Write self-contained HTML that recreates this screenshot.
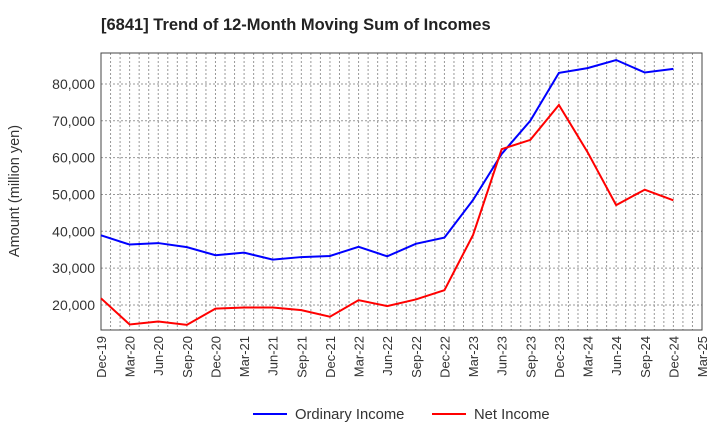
<!DOCTYPE html>
<html><head><meta charset="utf-8"><style>
body{margin:0;background:#fff;font-family:"Liberation Sans",sans-serif}
</style></head><body>
<svg id="c" width="720" height="440" xmlns="http://www.w3.org/2000/svg" font-family="Liberation Sans, sans-serif">
<text x="101" y="30" font-size="16.5" font-weight="bold" fill="#222">[6841]  Trend of 12-Month Moving Sum of Incomes</text>
<g id="grid"></g><g id="axes"></g><g id="series"></g>
<text transform="translate(19,191) rotate(-90)" text-anchor="middle" font-size="14.5" fill="#333">Amount (million yen)</text>
<g>
<line x1="253" y1="414" x2="287" y2="414" stroke="#0000ff" stroke-width="2"/>
<text x="295" y="419" font-size="14.8" fill="#333">Ordinary Income</text>
<line x1="432" y1="414" x2="466" y2="414" stroke="#ff0000" stroke-width="2"/>
<text x="474" y="419" font-size="14.8" fill="#333">Net Income</text>
</g>
</svg>
<script>
const categories=["Dec-19","Mar-20","Jun-20","Sep-20","Dec-20","Mar-21","Jun-21","Sep-21","Dec-21","Mar-22","Jun-22","Sep-22","Dec-22","Mar-23","Jun-23","Sep-23","Dec-23","Mar-24","Jun-24","Sep-24","Dec-24","Mar-25"];
const ordinaryIncome=[38900,36400,36800,35700,33500,34200,32300,33000,33300,35800,33200,36600,38300,48500,61000,70000,83000,84300,86500,83100,84100];
const netIncome=[21800,14700,15500,14600,19000,19300,19300,18600,16800,21300,19700,21500,24000,39000,62300,64800,74300,61500,47100,51300,48400];
const yTicks=[20000,30000,40000,50000,60000,70000,80000];
const L=101,R=702,T=53,B=330,yMin=13200,yMax=88400;
const ns="http://www.w3.org/2000/svg";
function x(i){return L+i*(R-L)/(categories.length-1);}
function y(v){return B-(v-yMin)*(B-T)/(yMax-yMin);}
function mk(p,t,a){const e=document.createElementNS(ns,t);for(const k in a)e.setAttribute(k,a[k]);p.appendChild(e);return e;}
const g=document.getElementById('grid'),ax=document.getElementById('axes'),s=document.getElementById('series');
const nm=(categories.length-1)*3;
for(let m=1;m<nm;m++){const xx=L+m*(R-L)/nm;const l=mk(g,'line',{x1:xx,x2:xx,y1:T,y2:B,stroke:'#999','stroke-dasharray':'2,2','stroke-width':1});

}
yTicks.forEach(v=>{const l=mk(g,'line',{x1:L,x2:R,y1:y(v),y2:y(v),stroke:'#999','stroke-dasharray':'2,2','stroke-width':1});


const t=mk(ax,'text',{x:L-6,y:y(v)+5,'text-anchor':'end','font-size':14,fill:'#333'});t.textContent=v.toLocaleString('en-US');

});
const f=mk(ax,'rect',{x:L,y:T,width:R-L,height:B-T,fill:'none',stroke:'#444','stroke-width':1});


categories.forEach((c,i)=>{const t=mk(ax,'text',{transform:`translate(${x(i)+5},${B+6}) rotate(-90)`,'text-anchor':'end','font-size':13,fill:'#333'});t.textContent=c;

});
function line(d,col,name){const p=mk(s,'polyline',{points:d.map((v,i)=>x(i)+','+y(v)).join(' '),fill:'none',stroke:col,'stroke-width':2});

}
line(ordinaryIncome,'#0000ff','ordinary-income-line');
line(netIncome,'#ff0000','net-income-line');
</script>
</body></html>
